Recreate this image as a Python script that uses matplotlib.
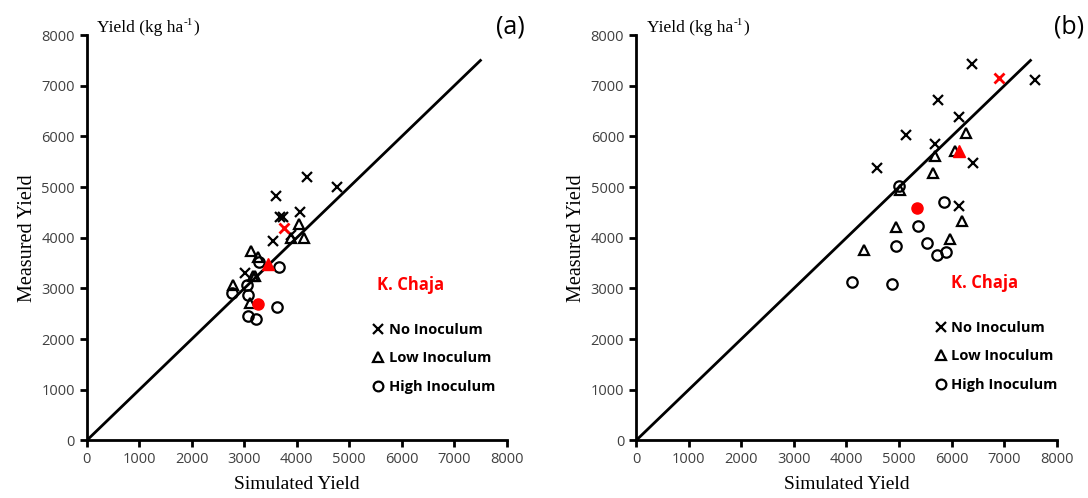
import matplotlib
matplotlib.use("Agg")
import matplotlib.pyplot as plt
from matplotlib.lines import Line2D

# panel (a) data: (simulated, measured)
a_no_x = [4200, 4770, 3600, 3680, 3740, 4060, 3550, 3020, 3900]
a_no_y = [5200, 5000, 4820, 4420, 4420, 4500, 3930, 3300, 4050]
a_low_x = [4050, 4130, 3900, 3120, 3270, 3170, 2790, 3210, 3110]
a_low_y = [4280, 4000, 4000, 3730, 3630, 3240, 3070, 3250, 2710]
a_high_x = [3670, 3290, 2760, 3050, 3080, 3630, 3080, 3230]
a_high_y = [3420, 3530, 2910, 3070, 2870, 2630, 2450, 2400]
a_red_no = (3750, 4190)
a_red_low = (3460, 3490)
a_red_high = (3270, 2700)

# panel (b) data
b_no_x = [6380, 7580, 5740, 6140, 5130, 5690, 6400, 4590, 6140]
b_no_y = [7420, 7120, 6720, 6380, 6020, 5850, 5480, 5370, 4620]
b_low_x = [6270, 5690, 6060, 5640, 5020, 6190, 4940, 5970, 4340]
b_low_y = [6060, 5620, 5720, 5280, 4950, 4340, 4210, 3980, 3750]
b_high_x = [5000, 5860, 5360, 4940, 5540, 5730, 5890, 4100, 4860]
b_high_y = [5020, 4700, 4240, 3830, 3900, 3670, 3720, 3130, 3090]
b_red_no = (6900, 7160)
b_red_low = (6140, 5720)
b_red_high = (5340, 4580)

ticks = [0, 1000, 2000, 3000, 4000, 5000, 6000, 7000, 8000]
line_end = 7500

fig = plt.figure(figsize=(10.88, 4.98), dpi=100)
ax1 = fig.add_axes([0.0797, 0.1155, 0.386, 0.814])
ax2 = fig.add_axes([0.5846, 0.1155, 0.3867, 0.814])

serif = "Liberation Serif"
sans = "Open Sans"


def draw_panel(ax, no_x, no_y, low_x, low_y, high_x, high_y, red_no, red_low, red_high,
               tag, tag_x, chaja_xy, leg_anchor):
    ax.plot([0, line_end], [0, line_end], color="black", lw=2, zorder=1)
    ax.plot(no_x, no_y, ls="none", marker="x", ms=7.5, mew=1.6, color="black", zorder=3)
    ax.plot(low_x, low_y, ls="none", marker="^", ms=7.5, mew=1.6, mfc="none", mec="black", zorder=3)
    ax.plot(high_x, high_y, ls="none", marker="o", ms=7.5, mew=1.6, mfc="none", mec="black", zorder=3)
    ax.plot(*red_no, marker="x", ms=7.5, mew=2, color="red", zorder=4)
    ax.plot(*red_low, marker="^", ms=8, color="red", zorder=4)
    ax.plot(*red_high, marker="o", ms=8, color="red", zorder=4)

    ax.set_xlim(0, 8000)
    ax.set_ylim(0, 8000)
    ax.set_xticks(ticks)
    ax.set_yticks(ticks)
    for s in ["top", "right"]:
        ax.spines[s].set_visible(False)
    for s in ["left", "bottom"]:
        ax.spines[s].set_linewidth(2)
    ax.tick_params(direction="out", length=5, width=2, labelsize=10.5, colors="black")
    for lab in ax.get_xticklabels() + ax.get_yticklabels():
        lab.set_fontfamily(sans)
        lab.set_color("#404040")
    ax.set_xlabel("Simulated Yield", fontfamily=serif, fontsize=14, labelpad=6)
    ax.set_ylabel("Measured Yield", fontfamily=serif, fontsize=14.5, labelpad=3)

    t = ax.text(0.025, 1.017, "Yield (kg ha", transform=ax.transAxes,
                fontfamily=serif, fontsize=12.5, va="center", ha="left")
    fig.canvas.draw()
    bb = t.get_window_extent()
    t2 = ax.text(bb.x1 + 0.5, bb.y1 - 7, "-1", transform=None, fontfamily=serif,
                 fontsize=8, va="bottom", ha="left")
    fig.canvas.draw()
    bb2 = t2.get_window_extent()
    ax.text(bb2.x1 + 0.5, bb.y0 + bb.height / 2, ")", transform=None, fontfamily=serif,
            fontsize=12.5, va="center", ha="left")

    ax.text(tag_x, 1.02, tag, transform=ax.transAxes, fontfamily=sans, fontsize=18,
            va="center", ha="center")
    ax.text(chaja_xy[0], chaja_xy[1], "K. Chaja", color="red", fontfamily=sans,
            fontweight="bold", fontsize=12, ha="center", va="center")

    handles = [
        Line2D([], [], ls="none", marker="x", ms=7, mew=1.6, color="black"),
        Line2D([], [], ls="none", marker="^", ms=7, mew=1.6, mfc="none", mec="black"),
        Line2D([], [], ls="none", marker="o", ms=7, mew=1.6, mfc="none", mec="black"),
    ]
    ax.legend(handles, ["No Inoculum", "Low Inoculum", "High Inoculum"], loc="upper left",
              bbox_to_anchor=leg_anchor, frameon=False, handlelength=0.6, handletextpad=0.4,
              labelspacing=1.0, borderaxespad=0, prop={"family": sans, "weight": "bold", "size": 10.5})


draw_panel(ax1, a_no_x, a_no_y, a_low_x, a_low_y, a_high_x, a_high_y,
           a_red_no, a_red_low, a_red_high, "(a)", 1.008, (6160, 3070), (0.67, 0.305))
draw_panel(ax2, b_no_x, b_no_y, b_low_x, b_low_y, b_high_x, b_high_y,
           b_red_no, b_red_low, b_red_high, "(b)", 1.03, (6630, 3110), (0.7, 0.31))

fig.savefig("out.png", dpi=100)
